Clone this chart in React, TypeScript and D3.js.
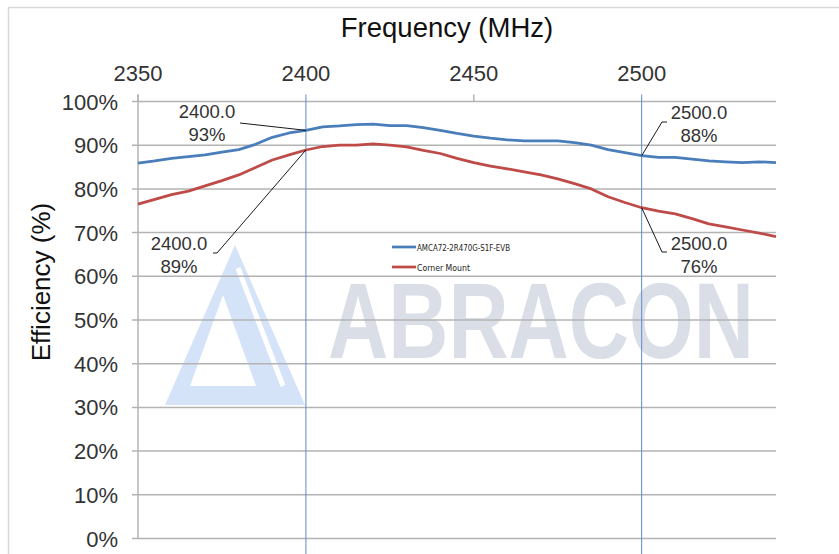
import React, { useRef, useEffect } from 'react';
import * as d3 from 'd3';

const freqs = d3.range(2350, 2541, 5);

const amcaEff = [
    85.9, 86.4, 87.0, 87.4, 87.8, 88.4, 89.0, 90.2, 91.8, 92.8,
    93.4, 94.2, 94.4, 94.7, 94.8, 94.5, 94.5, 94.0, 93.4, 92.7,
    92.1, 91.6, 91.2, 91.0, 91.0, 91.0, 90.6, 90.0, 89.0, 88.3,
    87.6, 87.2, 87.2, 86.8, 86.4, 86.2, 86.0, 86.2, 86.0,
];

const cornerEff = [
    76.5, 77.6, 78.7, 79.5, 80.7, 81.9, 83.2, 84.9, 86.6, 87.8,
    88.9, 89.7, 90.0, 90.0, 90.3, 90.0, 89.6, 88.8, 88.1, 87.0,
    86.0, 85.2, 84.6, 83.9, 83.2, 82.3, 81.2, 80.0, 78.2, 76.9,
    75.7, 74.9, 74.3, 73.2, 72.0, 71.3, 70.6, 69.9, 69.1,
];

const seriesNames = ['AMCA72-2R470G-S1F-EVB', 'Corner Mount'];
const seriesColors = ['#4a7ebb', '#be4b48'];
const xTicks = [2350, 2400, 2450, 2500];
const yTicks = d3.range(0, 101, 10);
const markerFreqs = [2400, 2500];

const W = 839;
const H = 554;

const App: React.FC = () => {
    const svgRef = useRef<SVGSVGElement>(null);

    useEffect(() => {
        if (!svgRef.current) return;
        const svg = d3.select(svgRef.current);
        svg.selectAll('*').remove();

        const left = 138, right = 776, top = 101.5, bottom = 538.5;
        const x = d3.scaleLinear().domain([2350, 2540]).range([left, right]);
        const y = d3.scaleLinear().domain([0, 100]).range([bottom, top]);
        const font = "'Liberation Sans', Arial, Helvetica, sans-serif";

        svg.append('rect').attr('width', W).attr('height', H).attr('fill', '#fff');

        // outer frame
        svg.append('path')
            .attr('d', `M8.5,${H} L8.5,7.5 L${W},7.5`)
            .attr('fill', 'none')
            .attr('stroke', '#d9d9d9')
            .attr('stroke-width', 1.5);

        // watermark (logo + name)
        const wm = svg.append('g');
        wm.append('path')
            .attr('d', 'M235,245 L305,405 L165,405 Z M223,295 L190,386 L256,386 Z')
            .attr('fill', '#d4e3f8')
            .attr('fill-rule', 'evenodd');
        wm.append('line')
            .attr('x1', 238).attr('y1', 268).attr('x2', 283).attr('y2', 386)
            .attr('stroke', '#fff').attr('stroke-width', 5);
        wm.append('text')
            .attr('x', 328).attr('y', 358)
            .attr('font-family', font)
            .attr('font-weight', 'bold')
            .attr('font-size', 108)
            .attr('textLength', 426)
            .attr('lengthAdjust', 'spacingAndGlyphs')
            .attr('fill', '#dadee7')
            .text('ABRACON');

        // horizontal grid
        svg.append('g')
            .selectAll('line')
            .data(yTicks)
            .enter()
            .append('line')
            .attr('x1', left - 6)
            .attr('x2', right)
            .attr('y1', (d: number) => y(d))
            .attr('y2', (d: number) => y(d))
            .attr('stroke', '#b3b3b3')
            .attr('stroke-width', 1.5);

        // y axis line
        svg.append('line')
            .attr('x1', left).attr('x2', left)
            .attr('y1', top - 7).attr('y2', bottom)
            .attr('stroke', '#b3b3b3').attr('stroke-width', 1.5);

        // top ticks
        svg.append('g')
            .selectAll('line')
            .data(xTicks.filter(d => !markerFreqs.includes(d)))
            .enter()
            .append('line')
            .attr('x1', (d: number) => x(d))
            .attr('x2', (d: number) => x(d))
            .attr('y1', top - 7)
            .attr('y2', top)
            .attr('stroke', '#b3b3b3')
            .attr('stroke-width', 1.5);

        // marker verticals
        svg.append('g')
            .selectAll('line')
            .data(markerFreqs)
            .enter()
            .append('line')
            .attr('x1', (d: number) => x(d))
            .attr('x2', (d: number) => x(d))
            .attr('y1', top - 7)
            .attr('y2', H)
            .attr('stroke', '#5b8bc9')
            .attr('stroke-width', 1);

        // tick labels
        svg.append('g')
            .selectAll('text')
            .data(yTicks)
            .enter()
            .append('text')
            .attr('x', 118)
            .attr('y', (d: number) => y(d) + 8)
            .attr('text-anchor', 'end')
            .attr('font-family', font)
            .attr('font-size', 22)
            .attr('fill', '#333')
            .text((d: number) => `${d}%`);

        svg.append('g')
            .selectAll('text')
            .data(xTicks)
            .enter()
            .append('text')
            .attr('x', (d: number) => x(d))
            .attr('y', 81)
            .attr('text-anchor', 'middle')
            .attr('font-family', font)
            .attr('font-size', 22)
            .attr('fill', '#333')
            .text((d: number) => d);

        // titles
        svg.append('text')
            .attr('x', 447).attr('y', 37)
            .attr('text-anchor', 'middle')
            .attr('font-family', font)
            .attr('font-size', 27.5)
            .attr('fill', '#111')
            .text('Frequency (MHz)');

        svg.append('text')
            .attr('transform', 'translate(50,282) rotate(-90)')
            .attr('text-anchor', 'middle')
            .attr('font-family', font)
            .attr('font-size', 26)
            .attr('fill', '#111')
            .text('Efficiency (%)');

        // series
        const line = d3.line<number>()
            .x((_d: number, i: number) => x(freqs[i]))
            .y((d: number) => y(d));

        [amcaEff, cornerEff].forEach((vals, i) => {
            svg.append('path')
                .datum(vals)
                .attr('d', line)
                .attr('fill', 'none')
                .attr('stroke', seriesColors[i])
                .attr('stroke-width', 2.75)
                .attr('stroke-linejoin', 'round');
        });

        // legend
        const lg = svg.append('g');
        seriesNames.forEach((name, i) => {
            const ly = 247 + i * 20;
            lg.append('line')
                .attr('x1', 392).attr('x2', 416)
                .attr('y1', ly).attr('y2', ly)
                .attr('stroke', seriesColors[i])
                .attr('stroke-width', 2.75);
            lg.append('text')
                .attr('x', 417).attr('y', ly + 3.5)
                .attr('font-family', "'DejaVu Sans Condensed', 'Liberation Sans', sans-serif")
                .attr('font-size', 9.5)
                .attr('fill', '#222')
                .attr('textLength', i === 0 ? 93 : 53)
                .attr('lengthAdjust', 'spacingAndGlyphs')
                .text(name);
        });

        // data labels with leader lines
        const labels = [
            { f: 2400, v: amcaEff[freqs.indexOf(2400)], tx: 207, ty: 118, path: [[240, 123]] },
            { f: 2400, v: cornerEff[freqs.indexOf(2400)], tx: 179, ty: 250, path: [[217, 253], [213, 253]] },
            { f: 2500, v: amcaEff[freqs.indexOf(2500)], tx: 699, ty: 119, path: [[662, 122], [667, 122]] },
            { f: 2500, v: cornerEff[freqs.indexOf(2500)], tx: 699, ty: 250, path: [[662, 252], [667, 252]] },
        ];
        labels.forEach(lb => {
            const pts: [number, number][] = [[x(lb.f), y(lb.v)], ...(lb.path as [number, number][])];
            svg.append('path')
                .attr('d', d3.line()(pts))
                .attr('fill', 'none')
                .attr('stroke', '#000')
                .attr('stroke-width', 0.9);
            const t = svg.append('text')
                .attr('font-family', font)
                .attr('font-size', 18.5)
                .attr('fill', '#333')
                .attr('text-anchor', 'middle');
            t.append('tspan').attr('x', lb.tx).attr('y', lb.ty).text(lb.f.toFixed(1));
            t.append('tspan').attr('x', lb.tx).attr('y', lb.ty + 22.5).text(`${Math.round(lb.v)}%`);
        });
    }, []);

    return (
        <svg
            ref={svgRef}
            width={W}
            height={H}
            style={{ position: 'absolute', left: 0, top: 0, display: 'block' }}
        />
    );
};

export default App;
